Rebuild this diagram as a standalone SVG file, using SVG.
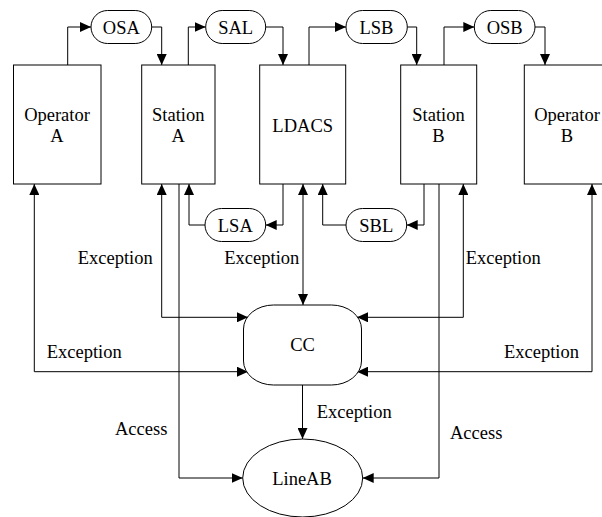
<svg xmlns="http://www.w3.org/2000/svg" width="602" height="517" viewBox="0 0 602 517" font-family="'Liberation Serif', 'Times New Roman', serif" font-size="18.5">
  <style>
    .box { fill: #fff; stroke: #000; stroke-width: 1; }
    text { font-family: "Liberation Serif", "Times New Roman", serif; font-size: 18.5px; fill: #000; }
    .mid { text-anchor: middle; }
    .wire { fill: none; stroke: #000; stroke-width: 1; }
    .to { marker-end: url(#arrow); }
    .both { marker-start: url(#arrow); marker-end: url(#arrow); }
  </style>
  <defs>
    <marker id="arrow" markerUnits="userSpaceOnUse" markerWidth="12" markerHeight="10" refX="11" refY="5" orient="auto-start-reverse">
      <path d="M0,0 L11,5 L0,10 Z" fill="#000"/>
    </marker>
  </defs>
  <rect width="602" height="517" fill="#fff"/>

  <!-- connectors -->
  <g id="connectors">
    <path class="wire to" d="M67.7,65 V27 H91"/>
    <path class="wire to" d="M151.7,27 H161.7 V65"/>
    <path class="wire to" d="M188.3,65 V27 H205.7"/>
    <path class="wire to" d="M265.7,27 H283 V65"/>
    <path class="wire to" d="M309,65 V27 H346"/>
    <path class="wire to" d="M407.3,27 H416.7 V65"/>
    <path class="wire to" d="M444,65 V27 H474.3"/>
    <path class="wire to" d="M535,27 H545 V65"/>

    <path class="wire to" d="M283,184 V225 H265.7"/>
    <path class="wire to" d="M205,225 H189 V184"/>
    <path class="wire to" d="M424,184 V225 H406.7"/>
    <path class="wire to" d="M346,225 H322.7 V184"/>

    <path class="wire both" d="M303,184 V305"/>
    <path class="wire both" d="M161.7,184 V317.3 H248"/>
    <path class="wire both" d="M34.3,184 V371.7 H248"/>
    <path class="wire both" d="M463.3,184 V317.3 H357"/>
    <path class="wire both" d="M592,184 V371.7 H357"/>

    <path class="wire to" d="M302.5,385 V439"/>
    <path class="wire to" d="M179,184 V478 H242.7"/>
    <path class="wire to" d="M439,184 V478 H362.7"/>

    <text x="77.7" y="264">Exception</text>
    <text x="224.3" y="264">Exception</text>
    <text x="465.7" y="264">Exception</text>
    <text x="46.7" y="358">Exception</text>
    <text x="504" y="358">Exception</text>
    <text x="316.7" y="418">Exception</text>
    <text x="115" y="435">Access</text>
    <text x="450" y="439">Access</text>
  </g>

  <!-- actors -->
  <g id="operatorA">
    <rect class="box" x="13.5" y="65" width="87.5" height="119"/>
    <text class="mid" x="57" y="120.7">Operator</text>
    <text class="mid" x="57" y="141.7">A</text>
  </g>
  <g id="stationA">
    <rect class="box" x="141.7" y="65" width="73.3" height="119"/>
    <text class="mid" x="178.3" y="120.7">Station</text>
    <text class="mid" x="178.3" y="141.7">A</text>
  </g>
  <g id="ldacs">
    <rect class="box" x="259.7" y="65" width="86" height="119"/>
    <text class="mid" x="302.7" y="132">LDACS</text>
  </g>
  <g id="stationB">
    <rect class="box" x="400.7" y="65" width="76" height="119"/>
    <text class="mid" x="438.5" y="120.7">Station</text>
    <text class="mid" x="438.5" y="141.7">B</text>
  </g>
  <g id="operatorB">
    <rect class="box" x="524.3" y="65" width="87.5" height="119"/>
    <text class="mid" x="567" y="120.7">Operator</text>
    <text class="mid" x="567" y="141.7">B</text>
  </g>

  <!-- channels -->
  <g id="OSA">
    <rect class="box" x="91" y="10.5" width="60.7" height="33" rx="16.5"/>
    <text class="mid" x="121.3" y="33.5">OSA</text>
  </g>
  <g id="SAL">
    <rect class="box" x="205.7" y="10.5" width="60" height="33" rx="16.5"/>
    <text class="mid" x="235.7" y="33.5">SAL</text>
  </g>
  <g id="LSB">
    <rect class="box" x="346" y="10.5" width="61.3" height="33" rx="16.5"/>
    <text class="mid" x="376.5" y="33.5">LSB</text>
  </g>
  <g id="OSB">
    <rect class="box" x="474.3" y="10.5" width="60.7" height="33" rx="16.5"/>
    <text class="mid" x="504.7" y="33.5">OSB</text>
  </g>
  <g id="LSA">
    <rect class="box" x="205" y="208.5" width="60.7" height="33" rx="16.5"/>
    <text class="mid" x="235.3" y="231.7">LSA</text>
  </g>
  <g id="SBL">
    <rect class="box" x="346" y="208.5" width="60.7" height="33" rx="16.5"/>
    <text class="mid" x="376.3" y="231.7">SBL</text>
  </g>

  <!-- control and line -->
  <g id="CC">
    <rect class="box" x="243.5" y="305" width="118" height="80" rx="30" ry="24"/>
    <text class="mid" x="302.5" y="351">CC</text>
  </g>
  <g id="LineAB">
    <ellipse class="box" cx="302.7" cy="478" rx="60" ry="39"/>
    <text class="mid" x="302" y="485">LineAB</text>
  </g>
</svg>
